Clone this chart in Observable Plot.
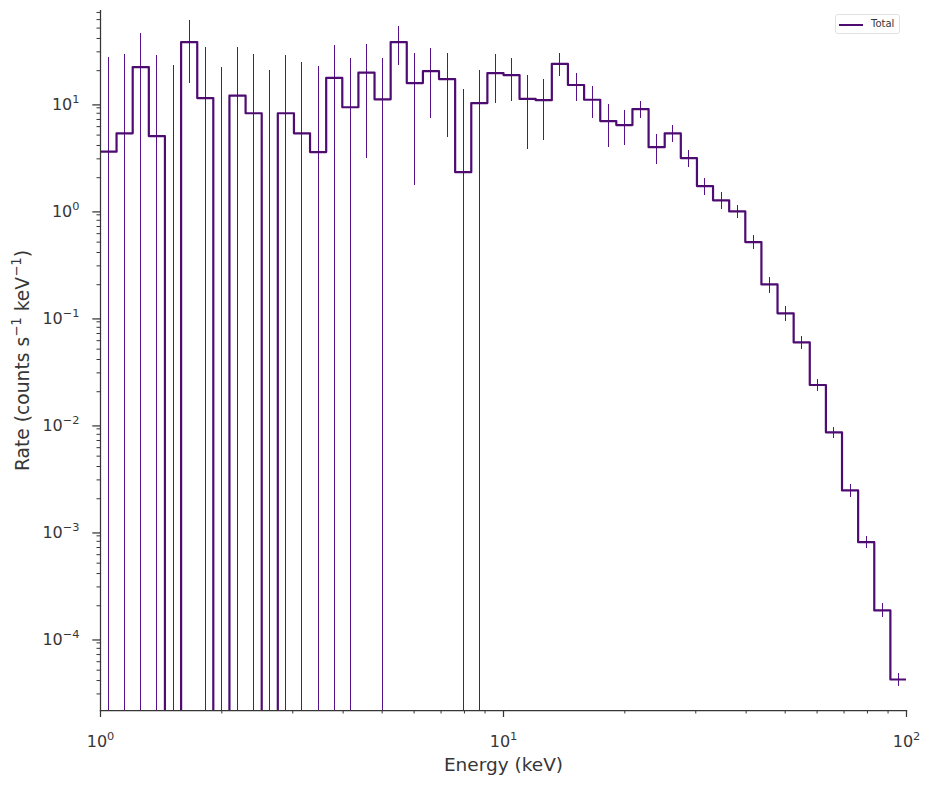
<!DOCTYPE html>
<html>
<head>
<meta charset="utf-8">
<script src="https://cdn.jsdelivr.net/npm/d3@7"></script>
<script src="https://cdn.jsdelivr.net/npm/@observablehq/plot@0.6"></script>
<style>
  body { margin: 0; background: #fff; font-family: "DejaVu Sans", sans-serif; }
  #wrap { position: relative; width: 930px; height: 786px; }
  #legend {
    position: absolute; left: 835px; top: 14px; width: 65px; height: 20px;
    box-sizing: border-box; border: 1px solid #e2e2e2; border-radius: 3px;
    background: rgba(255,255,255,0.85); font-size: 10px; color: #363636;
  }
  #legend .swatch { position: absolute; left: 3px; top: 8.5px; width: 24px; height: 0; border-top: 2px solid #4e0b72; }
  #legend .lab { position: absolute; left: 35px; top: 3px; line-height: 12px; }
</style>
</head>
<body>
<div id="wrap">
  <div id="chart"></div>
  <div id="legend"><div class="swatch"></div><div class="lab"></div></div>
</div>
<script>
// Energy bin edges (keV), 50 log-spaced bins
const binEdges = [1.000, 1.096, 1.202, 1.318, 1.445, 1.585, 1.738, 1.905, 2.089, 2.291,
  2.512, 2.754, 3.020, 3.311, 3.631, 3.981, 4.365, 4.786, 5.248, 5.754,
  6.310, 6.918, 7.586, 8.318, 9.120, 10.00, 10.96, 12.02, 13.18, 14.45,
  15.85, 17.38, 19.05, 20.89, 22.91, 25.12, 27.54, 30.20, 33.11, 36.31,
  39.81, 43.65, 47.86, 52.48, 57.54, 63.10, 69.18, 75.86, 83.18, 91.20, 100.0];

// Rate per bin (counts s^-1 keV^-1)
const rates = [3.5, 5.2, 21.6, 4.9, 0, 37, 11.1, 0, 11.7, 8.0,
  0, 8.0, 5.2, 3.47, 17.1, 9.1, 19.2, 10.8, 37, 15.3,
  19.8, 16.7, 2.25, 9.96, 19.0, 18.2, 10.9, 10.6, 23.2, 14.7,
  10.7, 6.76, 6.2, 8.75, 3.86, 5.2, 3.05, 1.67, 1.23, 0.968,
  0.50, 0.201, 0.108, 0.0578, 0.0231, 0.00834, 0.00239, 7.86e-4, 1.81e-4, 4.09e-5];

// Symmetric 1-sigma errors per bin
const errors = [23.3, 23.0, 22.8, 22.7, 22.3, 21.7, 21.7, 21.3, 21.0, 20.2,
  20.0, 19.6, 18.6, 18.3, 17.1, 16.8, 16.2, 15.1, 14.6, 13.6,
  12.6, 12.0, 11.0, 10.0, 9.2, 8.0, 7.2, 6.1, 5.5, 4.3,
  3.5, 2.9, 2.2, 1.6, 1.2, 0.9, 0.57, 0.3, 0.22, 0.135,
  0.075, 0.035, 0.017, 0.0077, 0.0029, 0.001, 3.3e-4, 1.0e-4, 2.7e-5, 5.4e-6];

const seriesName = "Total";
const xMajorTicks = [1, 10, 100];
const xTickLabels = ["10^{0}", "10^{1}", "10^{2}"];
const xMinorTicks = [2, 3, 4, 5, 6, 7, 8, 9, 20, 30, 40, 50, 60, 70, 80, 90];
const yMajorTicks = [1e-4, 1e-3, 1e-2, 1e-1, 1, 10];
const yTickLabels = ["10^{\u22124}", "10^{\u22123}", "10^{\u22122}", "10^{\u22121}", "10^{0}", "10^{1}"];
const yMinorMultipliers = [2, 3, 4, 5, 6, 7, 8, 9];
const yMinorDecades = [1e-5, 1e-4, 1e-3, 1e-2, 1e-1, 1, 10];
const xLabel = "Energy (keV)";
const yLabel = "Rate (counts s^{\u22121} keV^{\u22121})";

const yDomain = [2.1e-5, 73];
const yMinorTicks = yMinorDecades.flatMap(d => yMinorMultipliers.map(m => m * d))
  .filter(v => v >= yDomain[0] && v <= yDomain[1]);

const bins = rates.map((r, i) => ({
  lo: binEdges[i], hi: binEdges[i + 1],
  center: Math.sqrt(binEdges[i] * binEdges[i + 1]),
  rate: r, err: errors[i]
}));
const stepPts = bins.map(b => ({x: b.lo, y: b.rate}))
  .concat([{x: binEdges[binEdges.length - 1], y: rates[rates.length - 1]}]);

const FLOOR = 1e-12;
const ink = "#363636";
const lineColor = "#4e0b72";
const errColor = "#55128a";

const fmt = (ticks, labels) => d => {
  const i = ticks.findIndex(t => Math.abs(t - d) / t < 1e-9);
  return i >= 0 ? labels[i] : "";
};

const chart = Plot.plot({
  width: 930, height: 786,
  marginLeft: 100, marginRight: 24, marginTop: 10, marginBottom: 76,
  style: {fontFamily: "DejaVu Sans", color: ink, background: "white", overflow: "visible"},
  x: {type: "log", domain: [1, 100], label: null},
  y: {type: "log", domain: yDomain, label: null},
  marks: [
    Plot.ruleX(bins, {x: "center", y1: d => Math.max(d.rate - d.err, FLOOR), y2: d => d.rate + d.err,
      stroke: errColor, strokeWidth: 1, clip: true, shapeRendering: "crispEdges"}),
    Plot.line(stepPts, {x: "x", y: d => Math.max(d.y, FLOOR), curve: "step-after",
      stroke: lineColor, strokeWidth: 2.2, clip: true}),
    Plot.axisX({ticks: xMinorTicks, tickSize: 3.5, tickFormat: () => "", strokeWidth: 1, label: null}),
    Plot.axisX({ticks: xMajorTicks, tickSize: 7, tickPadding: 18.3, strokeWidth: 1.25,
      tickFormat: fmt(xMajorTicks, xTickLabels), fontSize: 16, label: null}),
    Plot.axisY({ticks: yMinorTicks, tickSize: 3.5, tickFormat: () => "", strokeWidth: 1, label: null}),
    Plot.axisY({ticks: yMajorTicks, tickSize: 7.7, tickPadding: 13.3, strokeWidth: 1.25,
      tickFormat: fmt(yMajorTicks, yTickLabels), fontSize: 16, dy: 2, label: null}),
    Plot.frame({anchor: "left", stroke: ink, strokeWidth: 1.25}),
    Plot.frame({anchor: "bottom", stroke: ink, strokeWidth: 1.25}),
    Plot.text([xLabel], {frameAnchor: "bottom", dy: 55, fontSize: 18.5, lineAnchor: "middle", fill: ink}),
    Plot.text([yLabel], {frameAnchor: "left", dx: -77.4, rotate: -90, fontSize: 18.7, lineAnchor: "middle",
      textAnchor: "middle", fill: ink})
  ]
});

// render "^{...}" as real superscripts
function superscriptify(svg) {
  svg.querySelectorAll("text").forEach(t => {
    const s = t.textContent;
    if (!s.includes("^{")) return;
    const parts = [];
    const re = /\^\{([^}]*)\}/g;
    let last = 0, m;
    while ((m = re.exec(s))) {
      if (m.index > last) parts.push({txt: s.slice(last, m.index), sup: false});
      parts.push({txt: m[1], sup: true});
      last = m.index + m[0].length;
    }
    if (last < s.length) parts.push({txt: s.slice(last), sup: false});
    t.textContent = "";
    const NS = "http://www.w3.org/2000/svg";
    let raised = false;
    parts.forEach(p => {
      const ts = document.createElementNS(NS, "tspan");
      ts.textContent = p.txt;
      if (p.sup) {
        ts.setAttribute("font-size", "71%");
        ts.setAttribute("dy", "-0.6em");
        raised = true;
      } else if (raised) {
        ts.setAttribute("dy", "0.426em");
        raised = false;
      }
      t.appendChild(ts);
    });
  });
}
superscriptify(chart);
document.getElementById("chart").appendChild(chart);
document.querySelector("#legend .lab").textContent = seriesName;
</script>
</body>
</html>
